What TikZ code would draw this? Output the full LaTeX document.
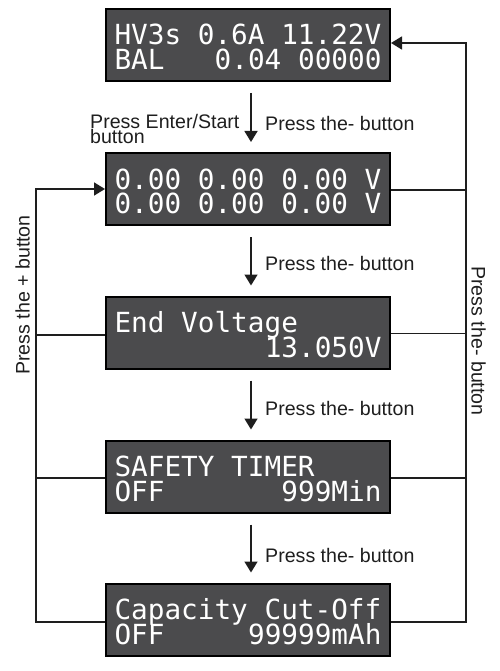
\documentclass[tikz,border=0pt]{standalone}
\usepackage{fontspec}
\setmainfont{Liberation Sans}
\newfontfamily\lcdfont{DejaVu Sans Mono}
\usetikzlibrary{arrows.meta}
\definecolor{lcdbg}{HTML}{4B4B4D}
\definecolor{ink}{HTML}{1E1E1E}
\newcommand{\lcdtext}[3]{\vbox{\baselineskip=24.5pt\lineskiplimit=-100pt\hbox to 267pt{\rule{0pt}{24.5pt}\smash{#1}\hfill}\hbox to 267pt{\smash{#2}\hfill\smash{#3}}}}
\tikzset{
  lcd/.style={draw=black, line width=2pt, fill=lcdbg, text=white, minimum width=284pt, minimum height=72pt, inner sep=0pt, font=\lcdfont\fontsize{27.7pt}{24.5pt}\selectfont},
  ln/.style={ink, line width=1.6pt},
  arr/.style={ln, -{Triangle[length=11pt,width=13pt]}},
  lbl/.style={font=\fontsize{19.6pt}{21pt}\selectfont, inner sep=0pt, text=ink}
}
\begin{document}
\begin{tikzpicture}[x=1pt,y=-1pt]
\useasboundingbox (0,0) rectangle (499,671);
\node[lcd] (b1) at (248,45) {\lcdtext{HV3s 0.6A 11.22V}{BAL}{0.04 00000}};
\node[lcd] (b2) at (248,189) {\lcdtext{0.00 0.00 0.00 V}{0.00 0.00 0.00 V}{}};
\node[lcd] (b3) at (248,332.5) {\lcdtext{End Voltage}{}{13.050V}};
\node[lcd] (b4) at (248,476.5) {\lcdtext{SAFETY TIMER}{OFF}{999Min}};
\node[lcd] (b5) at (248,619.5) {\lcdtext{Capacity Cut-Off}{OFF}{99999mAh}};
% vertical arrows
\draw[arr, shorten <=11pt, shorten >=10pt] ([xshift=3pt]b1.south) -- ([xshift=3pt]b2.north);
\draw[arr, shorten <=11pt, shorten >=10pt] ([xshift=3pt]b2.south) -- ([xshift=3pt]b3.north);
\draw[arr, shorten <=11pt, shorten >=10pt] ([xshift=3pt]b3.south) -- ([xshift=3pt]b4.north);
\draw[arr, shorten <=11pt, shorten >=10pt] ([xshift=3pt]b4.south) -- ([xshift=3pt]b5.north);
% labels
\node[lbl, anchor=base west] (l1a) at (90,144) {\vbox{\baselineskip=13.5pt\hbox{Press Enter/Start}\hbox{button}}};
\node[lbl, anchor=base west] (l1b) at (265,130.5) {Press the- button};
\node[lbl, anchor=base west] (l2) at (265,270.5) {Press the- button};
\node[lbl, anchor=base west] (l3) at (265,415.5) {Press the- button};
\node[lbl, anchor=base west] (l4) at (265,562.5) {Press the- button};
% left loop
\coordinate (L) at (36,622);
\draw[arr] ([yshift=-2.5pt]b5.west) -- (L) |- (b2.west);
\draw[ln] ([yshift=-2.5pt]b3.west) -- ([yshift=-2.5pt]b3.west -| L);
\draw[ln] ([yshift=-1.5pt]b4.west) -- ([yshift=-1.5pt]b4.west -| L);
% right loop
\coordinate (R) at (466,622);
\draw[arr] ([yshift=-2.5pt]b5.east) -- (R) |- ([yshift=2pt]b1.east);
\draw[ln] ([yshift=-1pt]b2.east) -- ([yshift=-1pt]b2.east -| R);
\draw[ln] ([yshift=-1pt]b3.east) -- ([yshift=-1pt]b3.east -| R);
\draw[ln] ([yshift=-1.5pt]b4.east) -- ([yshift=-1.5pt]b4.east -| R);
% rotated labels
\node[lbl, rotate=90] (lp) at (22.5,295) {Press the + button};
\node[lbl, rotate=-90] (lm) at (478.5,341) {Press the- button};
\end{tikzpicture}
\end{document}
